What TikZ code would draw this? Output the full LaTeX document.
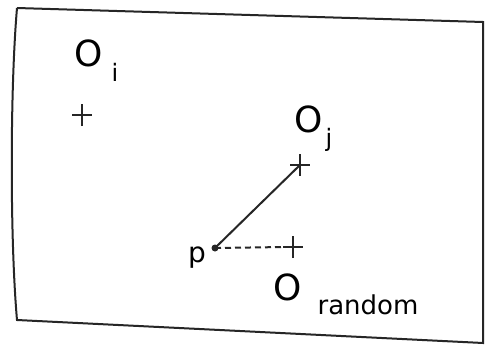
\documentclass[tikz,border=0pt]{standalone}
\usepackage{fontspec}
\setmainfont{DejaVu Sans}
\begin{document}
\begin{tikzpicture}[x=1pt,y=-1pt,
  pen/.style={line width=2pt, black!85},
  lbl/.style={inner sep=0pt, font=\fontsize{36}{36}\selectfont},
  sub/.style={inner sep=0pt, font=\fontsize{24}{24}\selectfont},
  crossmark/.style={line width=2.2pt, black!85}]
\useasboundingbox (0,0) rectangle (485,353);
\fill[white] (0,0) rectangle (485,353);
% frame
\draw[pen] (17,8) -- (483,22) -- (483,343) -- (17,320) .. controls (10,240) and (10,90) .. (17,8);
% points
\coordinate (oi) at (82,115);
\coordinate (oj) at (300,165);
\coordinate (or) at (293,247);
\coordinate (p) at (215,248);
\foreach \c in {oi,oj,or}{
  \draw[crossmark] ([xshift=-10pt]\c) -- ([xshift=10pt]\c);
  \draw[crossmark] ([yshift=-11pt]\c) -- ([yshift=11pt]\c);
}
\fill[black!85] (p) circle (3.5pt);
\draw[pen] (p) -- (oj);
\draw[pen, dash pattern=on 6pt off 4pt] (p) -- ([xshift=-8pt]or);
% labels
\node[lbl] (Oi) at (89,53) {O};
\node[sub] (i) at (115,72) {i};
\node[lbl] (Oj) at (309,119) {O};
\node[sub] (j) at (329,140) {j};
\node[lbl] (Or) at (288,287) {O};
\node[sub, font=\fontsize{26}{26}\selectfont] (r) at (368,305) {random};
\node[sub, font=\fontsize{28}{28}\selectfont] (pl) at (197,258) {p};
\end{tikzpicture}
\end{document}
